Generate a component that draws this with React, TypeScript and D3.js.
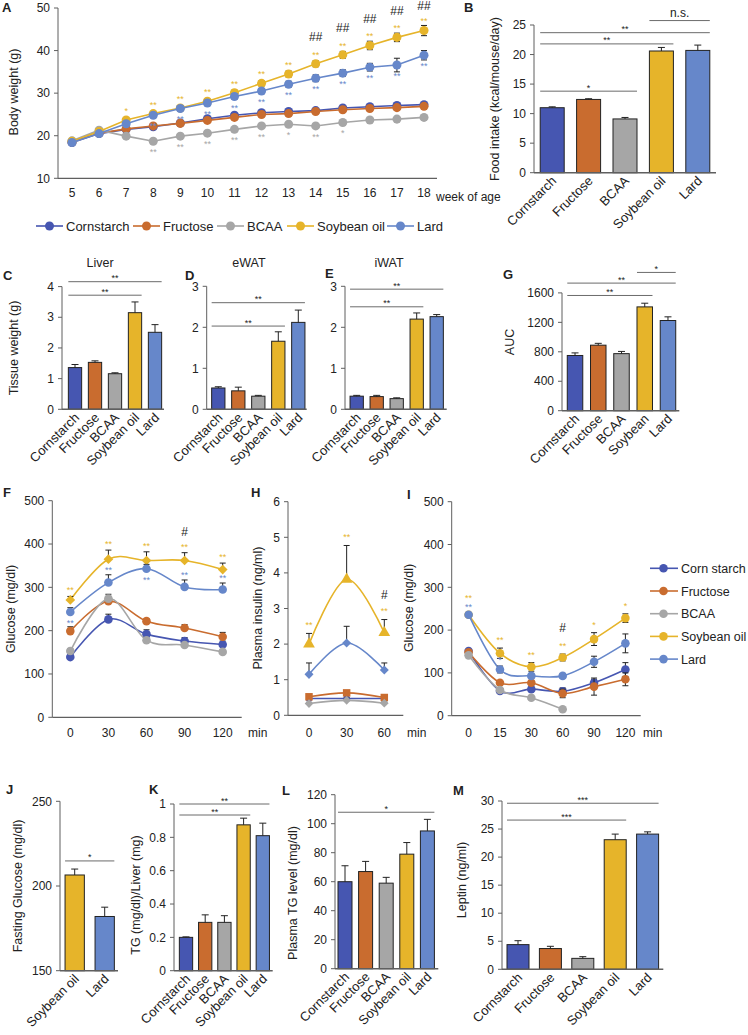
import React from "react";
import * as d3 from "d3";

const FONT = "'Liberation Sans', Arial, Helvetica, sans-serif";
const AXIS = "#5f5f5f";
const INK = "#222";
const SIG = "#6b6b6b";

// groups
const diets = ["Cornstarch", "Fructose", "BCAA", "Soybean oil", "Lard"];
const dietsLegendI = ["Corn starch", "Fructose", "BCAA", "Soybean oil", "Lard"];
const aucCats = ["Cornstarch", "Fructose", "BCAA", "Soybean", "Lard"];
const fastingCats = ["Soybean oil", "Lard"];
const dietColors = ["#4656b1", "#c96c2f", "#a6a6a6", "#e6b42a", "#6687ca"];

// A: body weight (g)
const weeks = [5, 6, 7, 8, 9, 10, 11, 12, 13, 14, 15, 16, 17, 18];
const bwCorn = [18.4, 20.5, 21.5, 22.1, 23.0, 24.0, 24.8, 25.4, 25.7, 25.9, 26.5, 26.8, 27.1, 27.3];
const bwFru = [18.5, 20.6, 21.6, 22.3, 22.9, 23.6, 24.3, 25.0, 25.2, 25.7, 26.1, 26.4, 26.6, 26.9];
const bwBcaa = [18.8, 21.3, 19.9, 18.7, 19.9, 20.6, 21.5, 22.3, 22.7, 22.3, 23.1, 23.7, 23.9, 24.3];
const bwSoy = [18.7, 21.0, 23.7, 25.2, 26.5, 28.1, 30.1, 32.3, 34.5, 36.9, 39.0, 41.2, 43.1, 44.7];
const bwLard = [18.4, 20.5, 22.8, 24.8, 26.4, 27.7, 29.2, 30.5, 32.1, 33.5, 34.7, 36.1, 36.6, 38.9];
const bwCornErr = [0.3, 0.3, 0.4, 0.4, 0.4, 0.4, 0.4, 0.4, 0.4, 0.4, 0.4, 0.5, 0.5, 0.5];
const bwFruErr = [0.3, 0.3, 0.4, 0.4, 0.4, 0.4, 0.5, 0.5, 0.5, 0.5, 0.5, 0.5, 0.6, 0.6];
const bwBcaaErr = [0.3, 0.3, 0.4, 0.3, 0.3, 0.4, 0.4, 0.4, 0.4, 0.4, 0.4, 0.4, 0.4, 0.5];
const bwSoyErr = [0.3, 0.4, 0.5, 0.5, 0.5, 0.5, 0.6, 0.6, 0.7, 0.7, 0.8, 1.0, 1.0, 1.2];
const bwLardErr = [0.3, 0.3, 0.5, 0.5, 0.5, 0.6, 0.6, 0.6, 0.7, 0.8, 0.8, 0.9, 1.6, 1.1];
const sigSoyA = ["", "", "*", "**", "**", "**", "**", "**", "**", "**", "**", "**", "**", "**"];
const hashSoyA = ["", "", "", "", "", "", "", "", "", "##", "##", "##", "##", "##"];
const sigLardA = ["", "", "", "**", "**", "**", "**", "**", "**", "**", "**", "**", "**", "**"];
const sigBcaaA = ["", "", "", "**", "**", "**", "**", "**", "*", "**", "*", "", "", ""];

// B: food intake
const foodIntake = [11.0, 12.4, 9.1, 20.6, 20.7];
const foodIntakeErr = [0.15, 0.12, 0.25, 0.6, 0.9];

// C/D/E: tissue weight (g)
const liverW = [1.36, 1.53, 1.16, 3.15, 2.51];
const liverErr = [0.1, 0.05, 0.03, 0.35, 0.25];
const eWatW = [0.52, 0.45, 0.32, 1.66, 2.12];
const eWatErr = [0.03, 0.09, 0.02, 0.23, 0.3];
const iWatW = [0.32, 0.31, 0.26, 2.2, 2.26];
const iWatErr = [0.02, 0.03, 0.02, 0.15, 0.05];

// G: AUC
const aucVals = [750, 890, 775, 1410, 1225];
const aucErr = [35, 25, 30, 50, 50];

// F: OGTT glucose
const ogttTimes = ["0", "30", "60", "90", "120"];
const ogttCorn = [139, 226, 192, 176, 168];
const ogttFru = [199, 268, 222, 206, 186];
const ogttBcaa = [153, 274, 178, 167, 151];
const ogttSoy = [271, 365, 362, 362, 341];
const ogttLard = [243, 311, 343, 301, 295];
const ogttCornErr = [5, 12, 10, 8, 8];
const ogttFruErr = [10, 8, 5, 8, 10];
const ogttBcaaErr = [5, 10, 5, 5, 5];
const ogttSoyErr = [8, 21, 20, 18, 15];
const ogttLardErr = [10, 18, 10, 16, 15];
const sigSoyF = ["**", "**", "**", "**", "**"];
const hashF = ["", "", "", "#", ""];
const sigLardF = ["**", "**", "**", "**", "**"];
const lardSideF = ["below", "above", "below", "above", "above"];

// H: plasma insulin
const insTimes = ["0", "30", "60"];
const insCorn = [0.47, 0.47, 0.47];
const insFru = [0.52, 0.63, 0.5];
const insBcaa = [0.33, 0.42, 0.34];
const insSoy = [2.0, 3.82, 2.32];
const insLard = [1.15, 2.03, 1.27];
const insCornErr = [0.03, 0.03, 0.03];
const insFruErr = [0.05, 0.05, 0.05];
const insBcaaErr = [0.03, 0.03, 0.03];
const insSoyErr = [0.3, 0.95, 0.37];
const insLardErr = [0.32, 0.47, 0.2];
const sigSoyH = ["**", "**", "**"];
const hashH = ["", "", "#"];

// I: ITT glucose
const ittTimes = ["0", "15", "30", "60", "90", "120"];
const ittCorn = [151, 58, 62, 57, 77, 108];
const ittFru = [148, 77, 77, 52, 68, 85];
const ittBcaa = [141, 60, 42, 15, null, null];
const ittSoy = [236, 146, 114, 136, 179, 228];
const ittLard = [236, 108, 93, 93, 126, 169];
const ittCornErr = [3, 5, 5, 8, 8, 16];
const ittFruErr = [3, 5, 5, 10, 20, 15];
const ittBcaaErr = [3, 3, 3, 3, 0, 0];
const ittSoyErr = [3, 12, 10, 8, 15, 10];
const ittLardErr = [3, 8, 5, 5, 13, 22];
const sigSoyI = ["**", "**", "**", "**", "*", "*"];
const sigLardI = ["**", "*", "", "", "", ""];
const hashI = ["", "", "", "#", "", ""];

// J-M
const fastingGlu = [206.5, 182];
const fastingGluErr = [3.5, 5.5];
const liverTG = [0.2, 0.29, 0.29, 0.875, 0.81];
const liverTGErr = [0.003, 0.045, 0.04, 0.04, 0.075];
const plasmaTG = [60, 67, 59, 79, 95];
const plasmaTGErr = [11, 7, 4, 8, 8];
const leptin = [4.4, 3.7, 1.95, 23.1, 24.1];
const leptinErr = [0.7, 0.4, 0.3, 1.0, 0.4];

type Sig = { a: number; b: number; y: number; t: string };
const sigB: Sig[] = [
  { a: 0, b: 2, y: 13.8, t: "*" },
  { a: 0, b: 3, y: 21.8, t: "**" },
  { a: 0, b: 4, y: 23.7, t: "**" },
  { a: 3, b: 4, y: 25.75, t: "n.s." },
];
const sigC: Sig[] = [
  { a: 0, b: 4, y: 4.16, t: "**" },
  { a: 0, b: 3, y: 3.72, t: "**" },
];
const sigD: Sig[] = [
  { a: 0, b: 4, y: 2.6, t: "**" },
  { a: 0, b: 3, y: 2.03, t: "**" },
];
const sigE: Sig[] = [
  { a: 0, b: 4, y: 2.93, t: "**" },
  { a: 0, b: 3, y: 2.5, t: "**" },
];
const sigG: Sig[] = [
  { a: 0, b: 3, y: 1565, t: "**" },
  { a: 0, b: 4, y: 1733, t: "**" },
  { a: 3, b: 4, y: 1878, t: "*" },
];
const sigJ: Sig[] = [{ a: 0, b: 1, y: 214.8, t: "*" }];
const sigK: Sig[] = [
  { a: 0, b: 4, y: 1.0, t: "**" },
  { a: 0, b: 3, y: 0.934, t: "**" },
];
const sigL: Sig[] = [{ a: 0, b: 4, y: 107.9, t: "*" }];
const sigM: Sig[] = [
  { a: 0, b: 4, y: 29.6, t: "***" },
  { a: 0, b: 3, y: 26.6, t: "***" },
];

type Lin = d3.ScaleLinear<number, number>;

function YAxis({ x, y, ticks, fs, fmt }: { x: number; y: Lin; ticks: number[]; fs: number; fmt?: (v: number) => string }) {
  return (
    <g>
      <line x1={x} x2={x} y1={y(ticks[0])} y2={y(ticks[ticks.length - 1])} stroke={AXIS} />
      {ticks.map((t) => (
        <g key={t}>
          <line x1={x - 4} x2={x} y1={y(t)} y2={y(t)} stroke={AXIS} />
          <text x={x - 8} y={y(t)} dy="0.35em" textAnchor="end" fontSize={fs}>
            {fmt ? fmt(t) : String(t)}
          </text>
        </g>
      ))}
    </g>
  );
}

function YLabel({ x, y, text, fs = 12.5 }: { x: number; y: number; text: string; fs?: number }) {
  return (
    <text transform={`translate(${x},${y}) rotate(-90)`} textAnchor="middle" fontSize={fs}>
      {text}
    </text>
  );
}

function Letter({ x, y, t }: { x: number; y: number; t: string }) {
  return (
    <text x={x} y={y} fontWeight="bold" fontSize={13}>
      {t}
    </text>
  );
}

type BarProps = {
  cats: string[];
  vals: number[];
  errs: number[];
  dom: [number, number];
  rng: [number, number];
  ticks: number[];
  axisX: number;
  axisEnd: number;
  band: [number, number];
  barW: number;
  sigs: Sig[];
  fs: number;
  catFs: number;
  colors?: string[];
};

function BarPanel(p: BarProps) {
  const y = d3.scaleLinear().domain(p.dom).range(p.rng);
  const x = d3.scaleBand<string>().domain(p.cats).range(p.band);
  const cx = (i: number) => (x(p.cats[i]) ?? 0) + x.bandwidth() / 2;
  const base = y(p.dom[0]);
  const colors = p.colors ?? dietColors;
  return (
    <g>
      {p.vals.map((v, i) => (
        <rect key={"b" + i} x={cx(i) - p.barW / 2} y={y(v)} width={p.barW} height={base - y(v)} fill={colors[i]} stroke={INK} strokeWidth={1} />
      ))}
      {p.vals.map((v, i) => {
        const t = y(v + p.errs[i]);
        return (
          <g key={"e" + i} stroke={INK} strokeWidth={1}>
            <line x1={cx(i)} x2={cx(i)} y1={y(v)} y2={t} />
            <line x1={cx(i) - 3.5} x2={cx(i) + 3.5} y1={t} y2={t} />
          </g>
        );
      })}
      <YAxis x={p.axisX} y={y} ticks={p.ticks} fs={p.fs} />
      <line x1={p.axisX} x2={p.axisEnd} y1={base} y2={base} stroke={AXIS} strokeWidth={1.5} />
      {p.cats.map((c, i) => (
        <text key={"c" + i} transform={`translate(${cx(i) + 5},${base + 9}) rotate(-45)`} textAnchor="end" fontSize={p.catFs}>
          {c}
        </text>
      ))}
      {p.sigs.map((s, i) => {
        const x1 = cx(s.a) - p.barW / 2;
        const x2 = cx(s.b) + p.barW / 2;
        const yy = y(s.y);
        const ns = s.t === "n.s.";
        return (
          <g key={"s" + i}>
            <line x1={x1} x2={x2} y1={yy} y2={yy} stroke={SIG} />
            <text x={(x1 + x2) / 2} y={ns ? yy - 4 : yy - 0.5} textAnchor="middle" fontSize={ns ? 12 : 9}>
              {s.t}
            </text>
          </g>
        );
      })}
    </g>
  );
}

type Series = { vals: (number | null)[]; errs: number[]; color: string; sym: d3.SymbolType; size: number };

function LineMarks({ series, xs, y, curve, both }: { series: Series[]; xs: number[]; y: Lin; curve: d3.CurveFactory; both: boolean }) {
  const gen = d3
    .line<number | null>()
    .defined((d) => d != null)
    .x((_, i) => xs[i])
    .y((d) => y(d as number))
    .curve(curve);
  return (
    <g>
      {series.map((s, k) => (
        <g key={k}>
          <path d={gen(s.vals) ?? ""} fill="none" stroke={s.color} strokeWidth={1.6} />
          {s.vals.map((v, i) => {
            if (v == null || !s.errs[i]) return null;
            const t = y(v + s.errs[i]);
            const b = both ? y(v - s.errs[i]) : y(v);
            return (
              <g key={"e" + i} stroke={INK} strokeWidth={1}>
                <line x1={xs[i]} x2={xs[i]} y1={b} y2={t} />
                <line x1={xs[i] - 3} x2={xs[i] + 3} y1={t} y2={t} />
                {both && <line x1={xs[i] - 3} x2={xs[i] + 3} y1={b} y2={b} />}
              </g>
            );
          })}
          {s.vals.map((v, i) =>
            v == null ? null : (
              <path key={"m" + i} transform={`translate(${xs[i]},${y(v)})`} d={d3.symbol().type(s.sym).size(s.size)() ?? ""} fill={s.color} />
            )
          )}
        </g>
      ))}
    </g>
  );
}

function Star({ x, cy, t, color, fs = 9 }: { x: number; cy: number; t: string; color: string; fs?: number }) {
  if (!t) return null;
  return (
    <text x={x} y={cy + fs * 0.55} textAnchor="middle" fontSize={fs} fill={color}>
      {t}
    </text>
  );
}

function Hash({ x, cy, t }: { x: number; cy: number; t: string }) {
  if (!t) return null;
  return (
    <text x={x} y={cy + 4.3} textAnchor="middle" fontSize={12} fill={INK}>
      {t}
    </text>
  );
}

function PanelA() {
  const x = d3.scaleLinear().domain([5, 18]).range([72, 424]);
  const y = d3.scaleLinear().domain([10, 50]).range([178.3, 8]);
  const xs = weeks.map((w) => x(w));
  const vals = [bwCorn, bwFru, bwBcaa, bwSoy, bwLard];
  const errs = [bwCornErr, bwFruErr, bwBcaaErr, bwSoyErr, bwLardErr];
  const series: Series[] = vals.map((v, k) => ({ vals: v, errs: errs[k], color: dietColors[k], sym: d3.symbolCircle, size: 64 }));
  const legendX = [36, 133, 217, 287, 387];
  return (
    <g>
      <Letter x={2} y={12} t="A" />
      <YAxis x={58} y={y} ticks={[10, 20, 30, 40, 50]} fs={12} />
      <line x1={58} x2={437} y1={y(10)} y2={y(10)} stroke={AXIS} strokeWidth={1.3} />
      {weeks.map((w) => (
        <text key={w} x={x(w)} y={197} textAnchor="middle" fontSize={12}>
          {w}
        </text>
      ))}
      <text x={436} y={201} fontSize={12}>
        week of age
      </text>
      <YLabel x={18} y={92} text="Body weight (g)" />
      <LineMarks series={series} xs={xs} y={y} curve={d3.curveLinear} both={true} />
      {weeks.map((w, i) => {
        const soyC = Math.min(y(bwSoy[i]) - 11, y(bwSoy[i] + bwSoyErr[i]) - 6);
        return (
          <g key={"n" + w}>
            <Star x={xs[i]} cy={soyC} t={sigSoyA[i]} color={dietColors[3]} />
            <Hash x={xs[i]} cy={Math.max(y(bwSoy[i]) - 27, 5.5)} t={hashSoyA[i]} />
            <Star x={xs[i]} cy={y(bwLard[i]) + 9} t={sigLardA[i]} color={dietColors[4]} />
            <Star x={xs[i]} cy={y(bwBcaa[i]) + 9} t={sigBcaaA[i]} color={dietColors[2]} />
          </g>
        );
      })}
      {diets.map((d, k) => (
        <g key={d}>
          <line x1={legendX[k]} x2={legendX[k] + 27} y1={226} y2={226} stroke={dietColors[k]} strokeWidth={1.6} />
          <circle cx={legendX[k] + 13.5} cy={226} r={4.5} fill={dietColors[k]} />
          <text x={legendX[k] + 30} y={230.5} fontSize={13}>
            {d}
          </text>
        </g>
      ))}
    </g>
  );
}

function PanelF() {
  const x = d3.scalePoint<string>().domain(ogttTimes).range([70.3, 222.7]);
  const y = d3.scaleLinear().domain([0, 500]).range([717.3, 500.7]);
  const xs = ogttTimes.map((t) => x(t) ?? 0);
  const vals = [ogttCorn, ogttFru, ogttBcaa, ogttSoy, ogttLard];
  const errs = [ogttCornErr, ogttFruErr, ogttBcaaErr, ogttSoyErr, ogttLardErr];
  const syms = [d3.symbolCircle, d3.symbolCircle, d3.symbolCircle, d3.symbolDiamond2, d3.symbolCircle];
  const series: Series[] = vals.map((v, k) => ({ vals: v, errs: errs[k], color: dietColors[k], sym: syms[k], size: k === 3 ? 60 : 58 }));
  return (
    <g>
      <Letter x={3} y={497} t="F" />
      <YAxis x={52.3} y={y} ticks={[0, 100, 200, 300, 400, 500]} fs={12} />
      <line x1={52.3} x2={241.7} y1={y(0)} y2={y(0)} stroke={AXIS} strokeWidth={1.3} />
      {ogttTimes.map((t, i) => (
        <text key={t} x={xs[i]} y={737} textAnchor="middle" fontSize={12}>
          {t}
        </text>
      ))}
      <text x={248} y={737} fontSize={12}>
        min
      </text>
      <YLabel x={15} y={609} text="Glucose (mg/dl)" />
      <LineMarks series={series} xs={xs} y={y} curve={d3.curveCatmullRom.alpha(0)} both={false} />
      {ogttTimes.map((t, i) => {
        const soyC = y(ogttSoy[i] + ogttSoyErr[i]) - 8;
        const lardC = lardSideF[i] === "above" ? y(ogttLard[i] + ogttLardErr[i]) - 7 : y(ogttLard[i]) + 9;
        return (
          <g key={"n" + t}>
            <Star x={xs[i]} cy={soyC} t={sigSoyF[i]} color={dietColors[3]} />
            <Hash x={xs[i]} cy={soyC - 13} t={hashF[i]} />
            <Star x={xs[i]} cy={lardC} t={sigLardF[i]} color={dietColors[4]} />
          </g>
        );
      })}
    </g>
  );
}

function PanelH() {
  const x = d3.scalePoint<string>().domain(insTimes).range([309, 384.3]);
  const y = d3.scaleLinear().domain([0, 6]).range([715.3, 501.7]);
  const xs = insTimes.map((t) => x(t) ?? 0);
  const vals = [insCorn, insFru, insBcaa, insSoy, insLard];
  const errs = [insCornErr, insFruErr, insBcaaErr, insSoyErr, insLardErr];
  const syms = [d3.symbolSquare, d3.symbolSquare, d3.symbolDiamond2, d3.symbolTriangle, d3.symbolDiamond2];
  const sizes = [30, 56, 48, 60, 52];
  const series: Series[] = vals.map((v, k) => ({ vals: v, errs: errs[k], color: dietColors[k], sym: syms[k], size: sizes[k] }));
  return (
    <g>
      <Letter x={251} y={497} t="H" />
      <YAxis x={288} y={y} ticks={[0, 1, 2, 3, 4, 5, 6]} fs={12} />
      <line x1={288} x2={403.3} y1={y(0)} y2={y(0)} stroke={AXIS} strokeWidth={1.3} />
      {insTimes.map((t, i) => (
        <text key={t} x={xs[i]} y={737} textAnchor="middle" fontSize={12}>
          {t}
        </text>
      ))}
      <text x={407} y={737} fontSize={12}>
        min
      </text>
      <YLabel x={262} y={608} text="Plasma insulin (ng/ml)" />
      <LineMarks series={series} xs={xs} y={y} curve={d3.curveCatmullRom.alpha(0)} both={false} />
      {insTimes.map((t, i) => {
        const soyC = y(insSoy[i] + insSoyErr[i]) - 10;
        return (
          <g key={"n" + t}>
            <Star x={xs[i]} cy={soyC} t={sigSoyH[i]} color={dietColors[3]} />
            <Hash x={xs[i]} cy={soyC - 15} t={hashH[i]} />
          </g>
        );
      })}
    </g>
  );
}

function PanelI() {
  const x = d3.scalePoint<string>().domain(ittTimes).range([468.6, 625.4]);
  const y = d3.scaleLinear().domain([0, 500]).range([715.7, 501.7]);
  const xs = ittTimes.map((t) => x(t) ?? 0);
  const vals = [ittCorn, ittFru, ittBcaa, ittSoy, ittLard];
  const errs = [ittCornErr, ittFruErr, ittBcaaErr, ittSoyErr, ittLardErr];
  const series: Series[] = vals.map((v, k) => ({ vals: v, errs: errs[k], color: dietColors[k], sym: d3.symbolCircle, size: 58 }));
  return (
    <g>
      <Letter x={407} y={499} t="I" />
      <YAxis x={451.7} y={y} ticks={[0, 100, 200, 300, 400, 500]} fs={12} />
      <line x1={451.7} x2={640.7} y1={y(0)} y2={y(0)} stroke={AXIS} strokeWidth={1.3} />
      {ittTimes.map((t, i) => (
        <text key={t} x={xs[i]} y={737} textAnchor="middle" fontSize={12}>
          {t}
        </text>
      ))}
      <text x={643} y={737} fontSize={12}>
        min
      </text>
      <YLabel x={413} y={608} text="Glucose (mg/dl)" />
      <LineMarks series={series} xs={xs} y={y} curve={d3.curveCatmullRom.alpha(0)} both={true} />
      {ittTimes.map((t, i) => {
        const lardC = y(ittLard[i] + ittLardErr[i]) - 8;
        let soyC = y(ittSoy[i] + ittSoyErr[i]) - 10;
        if (sigLardI[i]) soyC = Math.min(soyC, lardC - 9);
        return (
          <g key={"n" + t}>
            <Star x={xs[i]} cy={lardC} t={sigLardI[i]} color={dietColors[4]} />
            <Star x={xs[i]} cy={soyC} t={sigSoyI[i]} color={dietColors[3]} />
            <Hash x={xs[i]} cy={soyC - 16} t={hashI[i]} />
          </g>
        );
      })}
      {dietsLegendI.map((d, k) => (
        <g key={d}>
          <line x1={650} x2={678} y1={568.3 + k * 22.7} y2={568.3 + k * 22.7} stroke={dietColors[k]} strokeWidth={1.6} />
          <circle cx={663.5} cy={568.3 + k * 22.7} r={4.3} fill={dietColors[k]} />
          <text x={681} y={572.8 + k * 22.7} fontSize={12.5}>
            {d}
          </text>
        </g>
      ))}
    </g>
  );
}

export default function App() {
  return (
    <svg width={748} height={1035} style={{ position: "absolute", left: 0, top: 0, fontFamily: FONT }} fill={INK}>
      <rect width={748} height={1035} fill="#fff" />
      <PanelA />

      {/* B */}
      <Letter x={464} y={12} t="B" />
      <YLabel x={499} y={99} text="Food intake (kcal/mouse/day)" />
      <BarPanel cats={diets} vals={foodIntake} errs={foodIntakeErr} dom={[0, 25]} rng={[172.7, 25]} ticks={[0, 5, 10, 15, 20, 25]}
        axisX={534} axisEnd={716} band={[534, 716]} barW={24} sigs={sigB} fs={12} catFs={13} />

      {/* C */}
      <Letter x={3} y={280} t="C" />
      <text x={100} y={267} textAnchor="middle" fontSize={12.5}>Liver</text>
      <YLabel x={18} y={348} text="Tissue weight (g)" />
      <BarPanel cats={diets} vals={liverW} errs={liverErr} dom={[0, 4]} rng={[409.3, 286.6]} ticks={[0, 1, 2, 3, 4]}
        axisX={62} axisEnd={164} band={[65, 165]} barW={13.3} sigs={sigC} fs={12} catFs={13} />

      {/* D */}
      <Letter x={185} y={280} t="D" />
      <text x={249} y={267} textAnchor="middle" fontSize={12.5}>eWAT</text>
      <BarPanel cats={diets} vals={eWatW} errs={eWatErr} dom={[0, 3]} rng={[409.3, 286.3]} ticks={[0, 1, 2, 3]}
        axisX={206.7} axisEnd={306.7} band={[208.3, 308.3]} barW={13.3} sigs={sigD} fs={12} catFs={13} />

      {/* E */}
      <Letter x={325} y={278} t="E" />
      <text x={389} y={267} textAnchor="middle" fontSize={12.5}>iWAT</text>
      <BarPanel cats={diets} vals={iWatW} errs={iWatErr} dom={[0, 3]} rng={[409.3, 286.3]} ticks={[0, 1, 2, 3]}
        axisX={345} axisEnd={446.7} band={[346.7, 446.7]} barW={13.3} sigs={sigE} fs={12} catFs={13} />

      {/* G */}
      <Letter x={503} y={279} t="G" />
      <YLabel x={514} y={342} text="AUC" />
      <BarPanel cats={aucCats} vals={aucVals} errs={aucErr} dom={[0, 1600]} rng={[410.7, 292.9]} ticks={[0, 400, 800, 1200, 1600]}
        axisX={562} axisEnd={679.3} band={[563.4, 679.6]} barW={15.5} sigs={sigG} fs={12} catFs={13} />

      <PanelF />
      <PanelH />
      <PanelI />

      {/* J */}
      <Letter x={6} y={794} t="J" />
      <YLabel x={22} y={886} text="Fasting Glucose (mg/dl)" />
      <BarPanel cats={fastingCats} vals={fastingGlu} errs={fastingGluErr} dom={[150, 250]} rng={[970.7, 801.3]} ticks={[150, 200, 250]}
        axisX={60} axisEnd={118} band={[59.7, 119.7]} barW={19.3} sigs={sigJ} fs={12} catFs={13}
        colors={[dietColors[3], dietColors[4]]} />

      {/* K */}
      <Letter x={149} y={794} t="K" />
      <YLabel x={140} y={895} text="TG (mg/dl)/Liver (mg)" />
      <BarPanel cats={diets} vals={liverTG} errs={liverTGErr} dom={[0, 1]} rng={[970.7, 804]} ticks={[0, 0.2, 0.4, 0.6, 0.8, 1]}
        axisX={174} axisEnd={272.7} band={[176.4, 272.4]} barW={13.3} sigs={sigK} fs={12} catFs={13} />

      {/* L */}
      <Letter x={282} y={795} t="L" />
      <YLabel x={297} y={893} text="Plasma TG level (mg/dl)" />
      <BarPanel cats={diets} vals={plasmaTG} errs={plasmaTGErr} dom={[0, 120]} rng={[968.7, 794.7]} ticks={[0, 20, 40, 60, 80, 100, 120]}
        axisX={335} axisEnd={438.3} band={[334.7, 437.7]} barW={14} sigs={sigL} fs={12} catFs={13} />

      {/* M */}
      <Letter x={453} y={795} t="M" />
      <YLabel x={466} y={880} text="Leptin (ng/ml)" />
      <BarPanel cats={diets} vals={leptin} errs={leptinErr} dom={[0, 30]} rng={[969.3, 801]} ticks={[0, 5, 10, 15, 20, 25, 30]}
        axisX={502} axisEnd={663.3} band={[501.8, 663.8]} barW={22} sigs={sigM} fs={12} catFs={13} />
    </svg>
  );
}
